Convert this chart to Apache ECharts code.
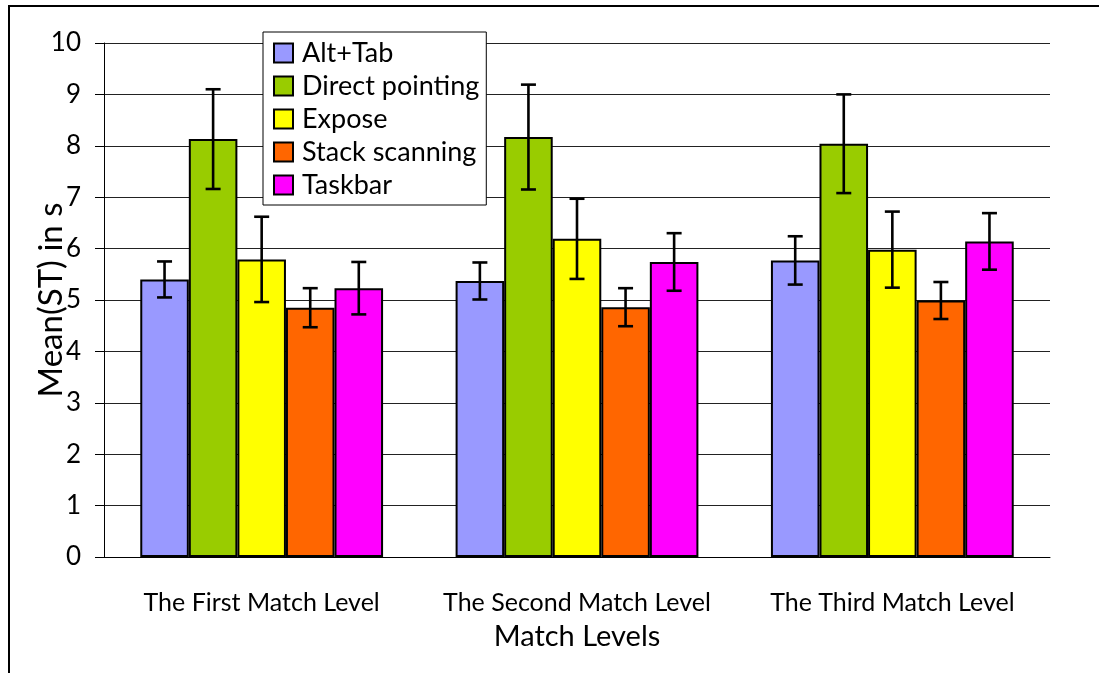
<!DOCTYPE html>
<html>
<head>
<meta charset="utf-8">
<script src="https://cdn.jsdelivr.net/npm/echarts@6/dist/echarts.min.js"></script>
<style>
	html, body { margin: 0; padding: 0; background: #fff; }
	#chart { width: 1099px; height: 673px; }
</style>
</head>
<body>
<div id="chart"></div>
<script>
// match levels on the x axis
const categories = ['The First Match Level', 'The Second Match Level', 'The Third Match Level']
const seriesNames = ['Alt+Tab', 'Direct pointing', 'Expose', 'Stack scanning', 'Taskbar']
const colors = ['#9999FF', '#99CC00', '#FFFF00', '#FF6600', '#FF00FF']

// mean search time (s)
const altTab = [5.40, 5.37, 5.77]
const directPointing = [8.13, 8.17, 8.04]
const expose = [5.79, 6.19, 5.98]
const stackScanning = [4.85, 4.86, 4.99]
const taskbar = [5.23, 5.74, 6.14]

// error bar half widths
const altTabErr = [0.35, 0.36, 0.47]
const directPointingErr = [0.97, 1.02, 0.96]
const exposeErr = [0.83, 0.78, 0.74]
const stackScanningErr = [0.38, 0.37, 0.36]
const taskbarErr = [0.51, 0.56, 0.55]

const yTicks = [0, 1, 2, 3, 4, 5, 6, 7, 8, 9, 10]

const means = [altTab, directPointing, expose, stackScanning, taskbar]
const errs = [altTabErr, directPointingErr, exposeErr, stackScanningErr, taskbarErr]

const FONT = 'Lato'
const GAP = 0.23 // barCategoryGap

const chart = echarts.init(document.getElementById('chart'))

const barSeries = seriesNames.map((name, i) => ({
	name: name,
	type: 'bar',
	barGap: '0%',
	barCategoryGap: GAP * 100 + '%',
	itemStyle: { color: colors[i], borderColor: '#000', borderWidth: 2 },
	data: means[i]
}))

const errSeries = seriesNames.map((name, s) => ({
	name: name + ' err',
	type: 'custom',
	z: 5,
	renderItem(params, api) {
		const idx = api.value(0)
		const lo = api.coord([idx, api.value(1)])
		const hi = api.coord([idx, api.value(2)])
		const band = api.size([1, 0])[0]
		const groupW = band * (1 - GAP)
		const barW = groupW / 5
		const x = lo[0] - groupW / 2 + (s + 0.5) * barW
		const cap = 7.5
		const style = { stroke: '#000', lineWidth: 2.6 }
		return {
			type: 'group',
			children: [
				{ type: 'line', shape: { x1: x, y1: lo[1], x2: x, y2: hi[1] }, style: style },
				{ type: 'line', shape: { x1: x - cap, y1: lo[1], x2: x + cap, y2: lo[1] }, style: style },
				{ type: 'line', shape: { x1: x - cap, y1: hi[1], x2: x + cap, y2: hi[1] }, style: style }
			]
		}
	},
	encode: { x: 0, y: [1, 2] },
	data: means[s].map((v, k) => [k, v - errs[s][k], v + errs[s][k]])
}))

chart.setOption({
	animation: false,
	backgroundColor: '#fff',
	textStyle: { fontFamily: FONT },
	graphic: [
		{
			// outer chart frame, only left and top edges are in view
			type: 'polyline',
			shape: { points: [[9, 700], [9, 6], [1120, 6]] },
			style: { fill: 'none', stroke: '#000', lineWidth: 2 },
			silent: true
		}
	],
	grid: {
		left: 104,
		right: 49,
		top: 43,
		bottom: 116
	},
	legend: {
		data: seriesNames,
		orient: 'vertical',
		left: 263,
		top: 32,
		padding: [6, 7, 5, 10],
		icon: 'rect',
		itemWidth: 19,
		itemHeight: 19,
		itemGap: 3,
		backgroundColor: '#fff',
		borderColor: '#000',
		borderWidth: 1,
		textStyle: {
			fontFamily: FONT,
			fontSize: 27,
			lineHeight: 30,
			color: '#000',
			padding: [0, 0, 0, 4]
		}
	},
	xAxis: {
		type: 'category',
		data: categories,
		name: 'Match Levels',
		nameLocation: 'middle',
		nameGap: 65,
		nameTextStyle: { fontFamily: FONT, fontSize: 29, color: '#000' },
		axisLine: { lineStyle: { color: '#000', width: 1 } },
		axisTick: { length: 9, lineStyle: { color: '#000' } },
		axisLabel: { interval: 0, hideOverlap: false, margin: 33, fontFamily: FONT, fontSize: 25, color: '#000' }
	},
	yAxis: {
		type: 'value',
		min: 0,
		max: yTicks[yTicks.length - 1],
		interval: 1,
		name: 'Mean(ST) in s',
		nameLocation: 'middle',
		nameGap: 36,
		nameMoveOverlap: false,
		nameTextStyle: { fontFamily: FONT, fontSize: 33, color: '#000' },
		axisLine: { show: true, lineStyle: { color: '#000', width: 1 } },
		axisTick: { show: true, length: 9, lineStyle: { color: '#000' } },
		axisLabel: { margin: 23, fontFamily: FONT, fontSize: 26, color: '#000' },
		splitLine: { lineStyle: { color: '#222', width: 1 } }
	},
	series: barSeries.concat(errSeries)
})
</script>
</body>
</html>
